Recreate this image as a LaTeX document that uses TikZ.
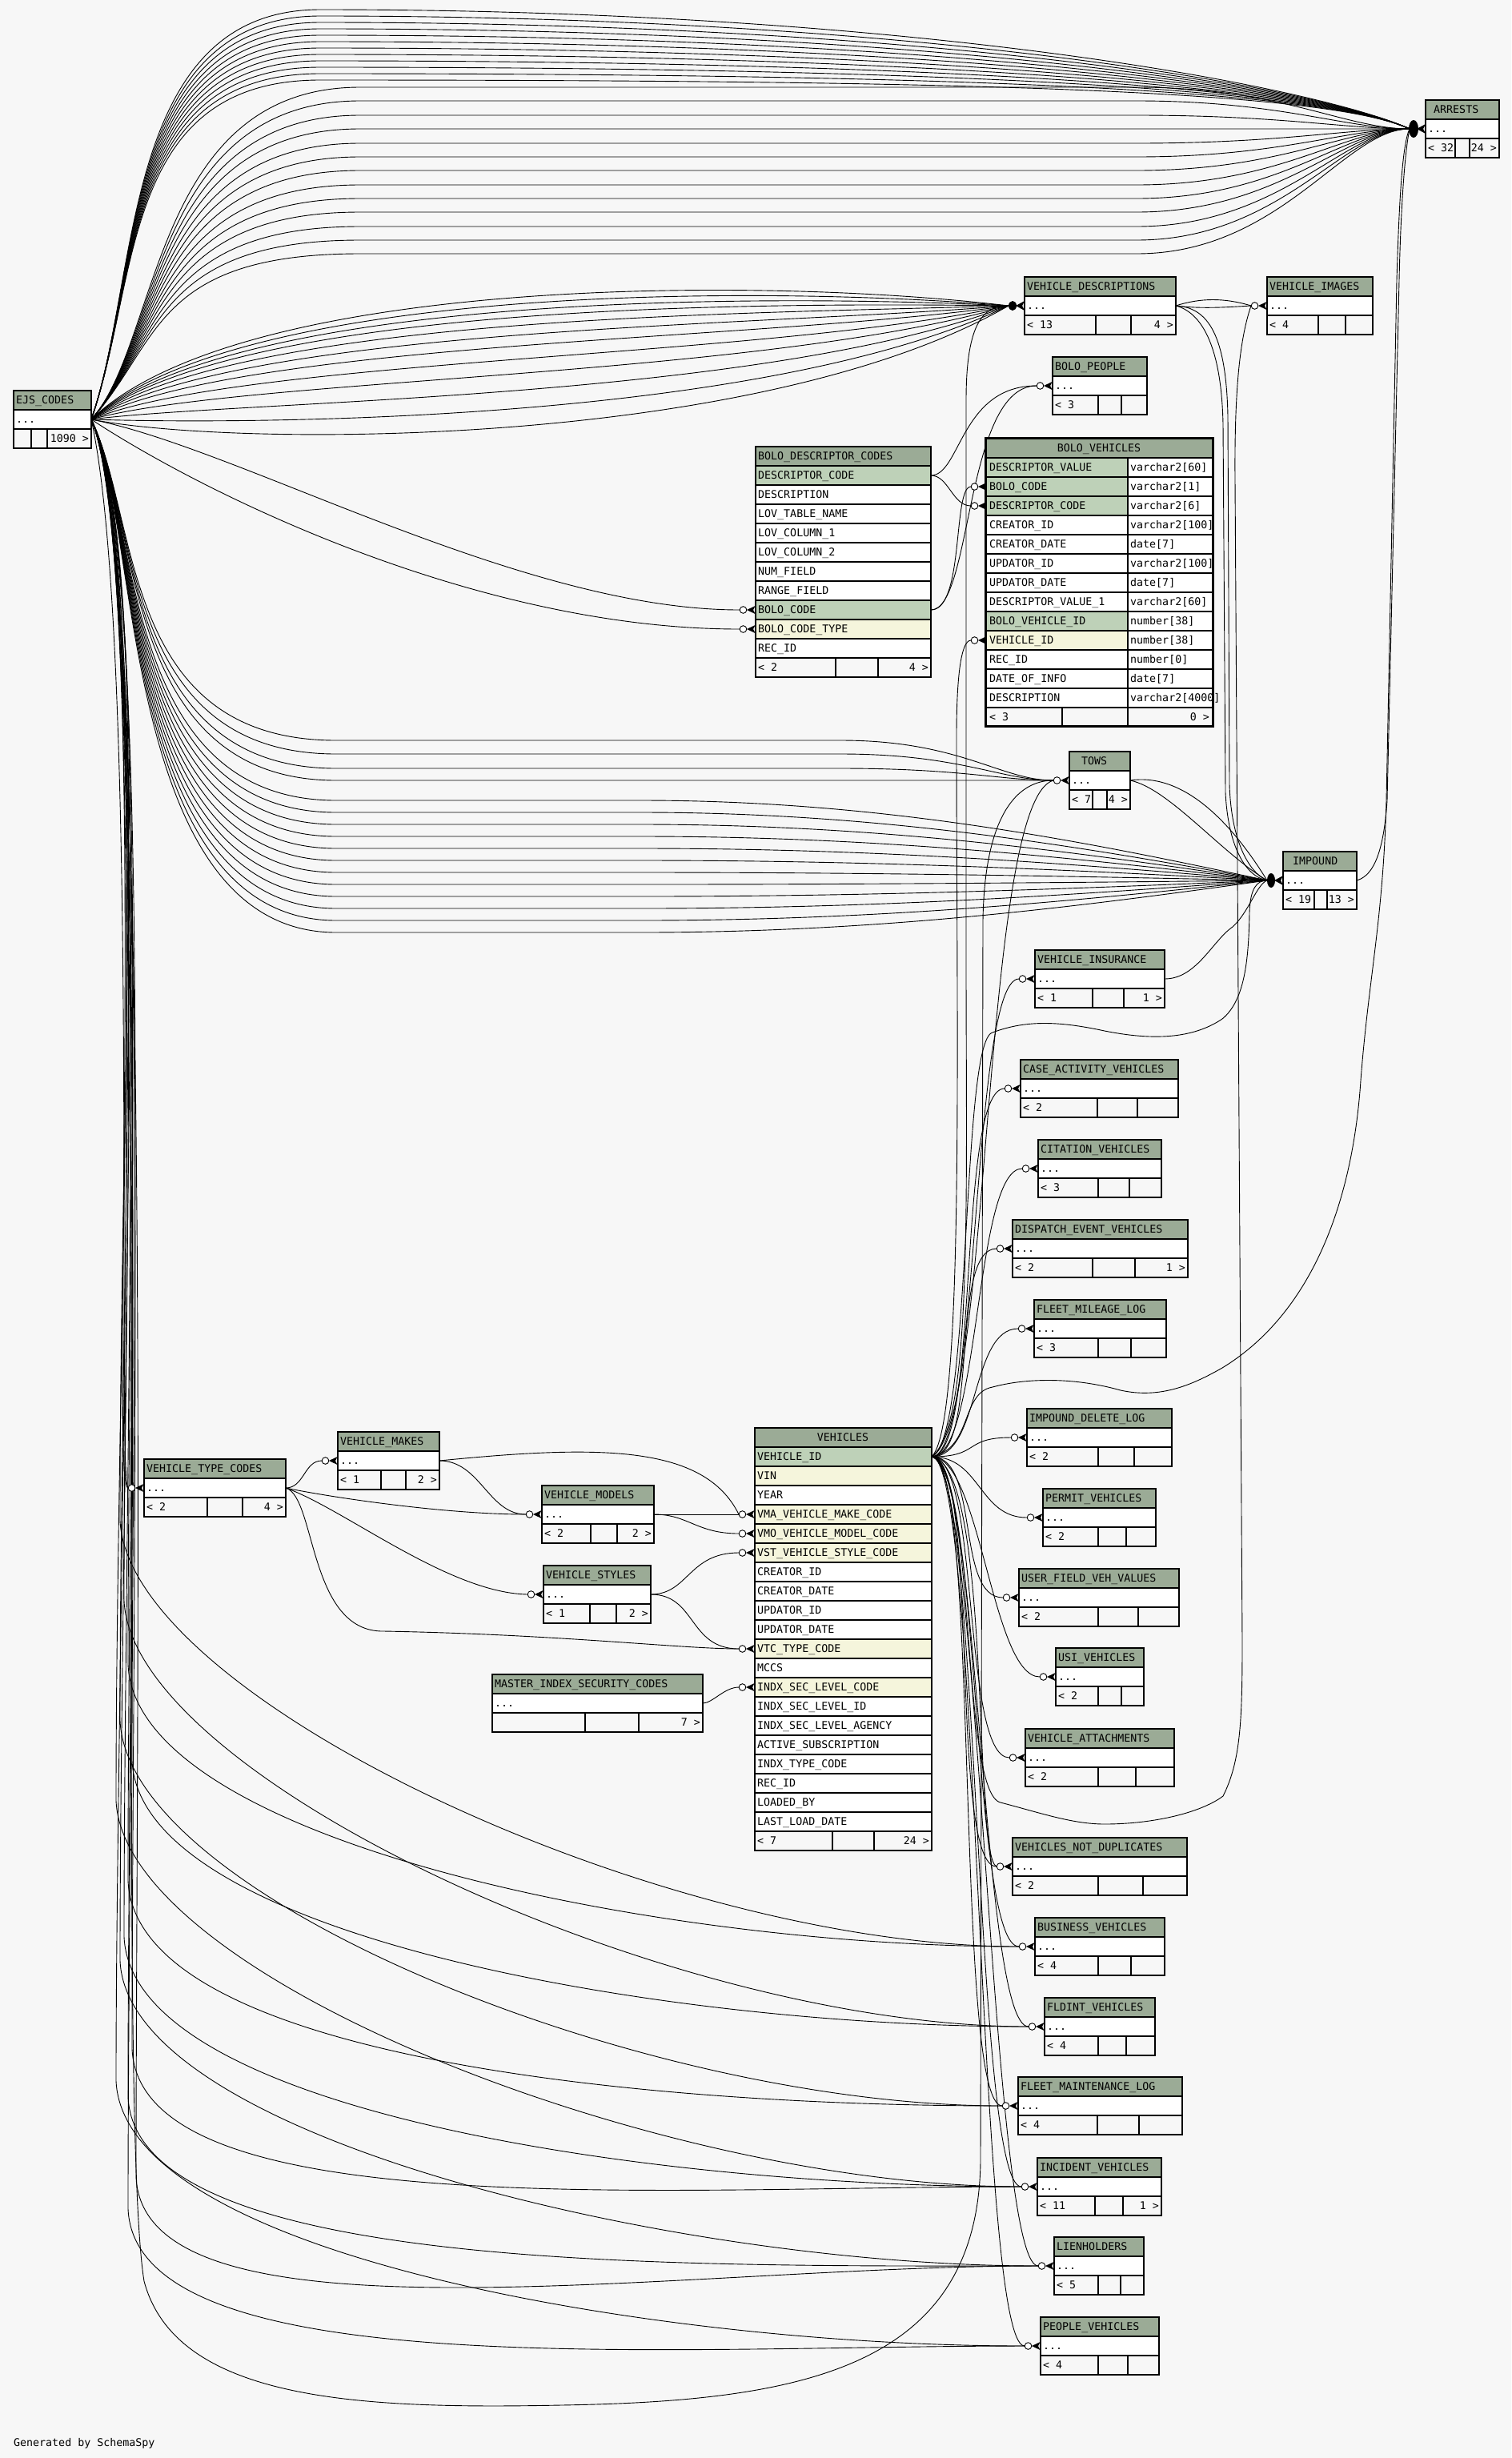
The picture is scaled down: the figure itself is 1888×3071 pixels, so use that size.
\documentclass[tikz,border=0pt]{standalone}
\usepackage{fontspec}
\usepackage{tikz}
\usetikzlibrary{calc}
\newfontfamily\mono{DejaVu Sans Mono}
\definecolor{bgpage}{HTML}{F7F7F7}
\definecolor{headgreen}{HTML}{9BAB96}
\definecolor{keygreen}{HTML}{BED1B8}
\definecolor{idxbeige}{HTML}{F5F5DC}
\pgfdeclarelayer{bg}
\pgfsetlayers{bg,main}
\tikzset{
  tbl/.style={draw=black, line width=1.2pt},
  rel/.style={draw=black, line width=0.9pt},
  celltext/.style={anchor=west, inner sep=3pt, text height=9.7pt, text depth=0pt, font=\mono\fontsize{13.3}{15}\selectfont},
}
% compact table: id, x0, y0, x1, title, split1, split2, parents, children
\newcommand{\brieftable}[9]{%
  \fill[headgreen] (#2,#3) rectangle (#4,#3+24);
  \fill[white] (#2,#3+24) rectangle (#4,#3+48);
  \fill[bgpage] (#2,#3+48) rectangle (#4,#3+72);
  \draw[tbl] (#2,#3) rectangle (#4,#3+72);
  \draw[tbl] (#2,#3+24) -- (#4,#3+24) (#2,#3+48) -- (#4,#3+48);
  \draw[tbl] (#6,#3+48) -- (#6,#3+72) (#7,#3+48) -- (#7,#3+72);
  \node[celltext] (#1-title) at (#2,#3+12) {#5};
  \node[celltext] (#1-dots) at (#2,#3+36) {...};
  \node[celltext] (#1-pl) at (#2,#3+60) {#8};
  \node[celltext,anchor=east] (#1-ch) at (#4,#3+60) {#9};
  \coordinate (#1-w) at (#2,#3+36);
  \coordinate (#1-in) at (#2-20,#3+36);
  \coordinate (#1-e) at (#4,#3+36);}
\newcommand{\crowat}[1]{%
  \fill ([xshift=-11pt]#1-w) -- ([xshift=-0.5pt,yshift=5pt]#1-w) -- ([xshift=-3pt]#1-w) -- ([xshift=-0.5pt,yshift=-5pt]#1-w) -- cycle;
  \draw[line width=0.9pt,fill=white] ([xshift=-15.5pt]#1-w) circle (4.3pt);}
\newcommand{\blobat}[3]{%
  \fill ([xshift=-11pt]#1-w) -- ([yshift=6pt]#1-w) -- ([xshift=-3pt]#1-w) -- ([yshift=-6pt]#1-w) -- cycle;
  \fill ([xshift=-15pt]#1-w) ellipse (#2 and #3);}

\begin{document}
\begin{tikzpicture}[x=1pt,y=-1pt]
  \useasboundingbox (0,0) rectangle (1888,3071);

  % small tables
  \brieftable{ejs}{17}{488}{114}{EJS\_CODES}{39}{59}{}{1090 >}
  \brieftable{arrests}{1781}{125}{1873}{\hspace*{7pt}ARRESTS}{1818}{1836}{< 32}{24 >}
  \brieftable{vdesc}{1280}{346}{1469}{VEHICLE\_DESCRIPTIONS}{1369}{1413}{< 13}{4 >}
  \brieftable{vimages}{1583}{346}{1715}{VEHICLE\_IMAGES}{1647}{1681}{< 4}{}
  \brieftable{bpeople}{1315}{446}{1433}{BOLO\_PEOPLE}{1372}{1401}{< 3}{}
  \brieftable{tows}{1336}{939}{1412}{\hspace*{12pt}TOWS}{1365}{1383}{< 7}{4 >}
  \brieftable{impound}{1603}{1064}{1695}{\hspace*{9pt}IMPOUND}{1642}{1658}{< 19}{13 >}
  \brieftable{vins}{1293}{1187}{1455}{VEHICLE\_INSURANCE}{1365}{1404}{< 1}{1 >}
  \brieftable{cav}{1275}{1324}{1472}{CASE\_ACTIVITY\_VEHICLES}{1371}{1421}{< 2}{}
  \brieftable{citv}{1297}{1424}{1451}{CITATION\_VEHICLES}{1372}{1411}{< 3}{}
  \brieftable{dev}{1265}{1524}{1484}{DISPATCH\_EVENT\_VEHICLES}{1365}{1418}{< 2}{1 >}
  \brieftable{fml}{1292}{1624}{1457}{FLEET\_MILEAGE\_LOG}{1372}{1413}{< 3}{}
  \brieftable{idl}{1283}{1760}{1464}{IMPOUND\_DELETE\_LOG}{1372}{1417}{< 2}{}
  \brieftable{permv}{1303}{1860}{1444}{PERMIT\_VEHICLES}{1372}{1407}{< 2}{}
  \brieftable{ufvv}{1273}{1960}{1473}{USER\_FIELD\_VEH\_VALUES}{1372}{1422}{< 2}{}
  \brieftable{usiv}{1319}{2059}{1429}{USI\_VEHICLES}{1372}{1401}{< 2}{}
  \brieftable{vatt}{1281}{2160}{1467}{VEHICLE\_ATTACHMENTS}{1372}{1419}{< 2}{}
  \brieftable{vnd}{1265}{2296}{1483}{VEHICLES\_NOT\_DUPLICATES}{1372}{1428}{< 2}{}
  \brieftable{busv}{1293}{2396}{1455}{BUSINESS\_VEHICLES}{1372}{1413}{< 4}{}
  \brieftable{fldv}{1305}{2496}{1443}{FLDINT\_VEHICLES}{1372}{1407}{< 4}{}
  \brieftable{fmlog}{1272}{2595}{1477}{FLEET\_MAINTENANCE\_LOG}{1371}{1423}{< 4}{}
  \brieftable{incv}{1296}{2696}{1451}{INCIDENT\_VEHICLES}{1368}{1403}{< 11}{1 >}
  \brieftable{lien}{1317}{2795}{1429}{LIENHOLDERS}{1372}{1400}{< 5}{}
  \brieftable{pplv}{1300}{2895}{1448}{PEOPLE\_VEHICLES}{1372}{1409}{< 4}{}
  \brieftable{vtc}{180}{1823}{357}{VEHICLE\_TYPE\_CODES}{259}{303}{< 2}{4 >}
  \brieftable{vmakes}{422}{1789}{549}{VEHICLE\_MAKES}{476}{507}{< 1}{2 >}
  \brieftable{vmodels}{677}{1856}{817}{VEHICLE\_MODELS}{738}{771}{< 2}{2 >}
  \brieftable{vstyles}{679}{1956}{813}{VEHICLE\_STYLES}{737}{770}{< 1}{2 >}
  \brieftable{misc}{615}{2092}{878}{MASTER\_INDEX\_SECURITY\_CODES}{731}{798}{}{7 >}

  % BOLO_DESCRIPTOR_CODES
  \fill[headgreen] (944,558) rectangle (1163,582);
  \node[celltext] (bdc-title) at (944,570) {BOLO\_DESCRIPTOR\_CODES};
  \foreach \nm/\cl [count=\k] in {DESCRIPTOR\_CODE/keygreen, DESCRIPTION/white, LOV\_TABLE\_NAME/white,
      LOV\_COLUMN\_1/white, LOV\_COLUMN\_2/white, NUM\_FIELD/white, RANGE\_FIELD/white,
      BOLO\_CODE/keygreen, BOLO\_CODE\_TYPE/idxbeige, REC\_ID/white} {
    \fill[fill=\cl] (944,558+24*\k) rectangle (1163,582+24*\k);
    \draw[tbl] (944,558+24*\k) -- (1163,558+24*\k);
    \node[celltext] (bdc-r\k) at (944,570+24*\k) {\nm};
  }
  \fill[bgpage] (944,822) rectangle (1163,846);
  \draw[tbl] (944,822) -- (1163,822) (1044,822) -- (1044,846) (1097,822) -- (1097,846);
  \draw[tbl] (944,558) rectangle (1163,846);
  \node[celltext] (bdc-pl) at (944,834) {< 2};
  \node[celltext,anchor=east] (bdc-ch) at (1163,834) {4 >};
  \coordinate (bdc-dc-e) at (1163,594);
  \coordinate (bdc-bc-e) at (1163,762);
  \coordinate (bdc-bc-w) at (944,762);
  \coordinate (bdc-bc-in) at (924,762);
  \coordinate (bdc-bct-w) at (944,786);
  \coordinate (bdc-bct-in) at (924,786);

  % BOLO_VEHICLES
  \fill[headgreen] (1233,548) rectangle (1514,572);
  \node[celltext,anchor=center] (bv-title) at (1373,560) {BOLO\_VEHICLES};
  \foreach \nm/\ty/\cl [count=\k] in {DESCRIPTOR\_VALUE/varchar2[60]/keygreen, BOLO\_CODE/varchar2[1]/keygreen,
      DESCRIPTOR\_CODE/varchar2[6]/keygreen, CREATOR\_ID/varchar2[100]/white, CREATOR\_DATE/date[7]/white,
      UPDATOR\_ID/varchar2[100]/white, UPDATOR\_DATE/date[7]/white, DESCRIPTOR\_VALUE\_1/varchar2[60]/white,
      BOLO\_VEHICLE\_ID/number[38]/keygreen, VEHICLE\_ID/number[38]/idxbeige, REC\_ID/number[0]/white,
      DATE\_OF\_INFO/date[7]/white, DESCRIPTION/varchar2[4000]/white} {
    \fill[fill=\cl] (1233,548+24*\k) rectangle (1409,572+24*\k);
    \fill[white] (1409,548+24*\k) rectangle (1514,572+24*\k);
    \draw[tbl] (1233,548+24*\k) -- (1514,548+24*\k);
    \node[celltext] (bv-n\k) at (1233,560+24*\k) {\nm};
    \node[celltext] (bv-t\k) at (1409,560+24*\k) {\ty};
  }
  \fill[bgpage] (1233,884) rectangle (1514,908);
  \draw[tbl] (1233,884) -- (1514,884) (1409,572) -- (1409,908) (1327,884) -- (1327,908);
  \node[celltext] (bv-pl) at (1233,896) {< 3};
  \node[celltext,anchor=east] (bv-ch) at (1514,896) {0 >};
  \draw[line width=3.5pt] (1231.5,547.5) rectangle (1515.5,907.5);
  \coordinate (bv-bc-w) at (1233,608);
  \coordinate (bv-bc-in) at (1213,608);
  \coordinate (bv-dc-w) at (1233,632);
  \coordinate (bv-dc-in) at (1213,632);
  \coordinate (bv-vid-w) at (1233,800);
  \coordinate (bv-vid-in) at (1213,800);

  % VEHICLES
  \fill[headgreen] (943,1784) rectangle (1164,1808);
  \node[celltext,anchor=center] (veh-title) at (1053,1796) {VEHICLES};
  \foreach \nm/\cl [count=\k] in {VEHICLE\_ID/keygreen, VIN/idxbeige, YEAR/white,
      VMA\_VEHICLE\_MAKE\_CODE/idxbeige, VMO\_VEHICLE\_MODEL\_CODE/idxbeige, VST\_VEHICLE\_STYLE\_CODE/idxbeige,
      CREATOR\_ID/white, CREATOR\_DATE/white, UPDATOR\_ID/white, UPDATOR\_DATE/white,
      VTC\_TYPE\_CODE/idxbeige, MCCS/white, INDX\_SEC\_LEVEL\_CODE/idxbeige, INDX\_SEC\_LEVEL\_ID/white,
      INDX\_SEC\_LEVEL\_AGENCY/white, ACTIVE\_SUBSCRIPTION/white, INDX\_TYPE\_CODE/white,
      REC\_ID/white, LOADED\_BY/white, LAST\_LOAD\_DATE/white} {
    \fill[fill=\cl] (943,1784+24*\k) rectangle (1164,1808+24*\k);
    \draw[tbl] (943,1784+24*\k) -- (1164,1784+24*\k);
    \node[celltext] (veh-r\k) at (943,1796+24*\k) {\nm};
  }
  \fill[bgpage] (943,2288) rectangle (1164,2312);
  \draw[tbl] (943,2288) -- (1164,2288) (1040,2288) -- (1040,2312) (1092,2288) -- (1092,2312);
  \draw[tbl] (943,1784) rectangle (1164,2312);
  \node[celltext] (veh-pl) at (943,2300) {< 7};
  \node[celltext,anchor=east] (veh-ch) at (1164,2300) {24 >};
  \coordinate (veh-id-e) at (1164,1820);
  \foreach \c/\y in {vma/1892, vmo/1916, vst/1940, vtc/2060, indx/2108} {
    \coordinate (veh-\c-w) at (943,\y);
    \coordinate (veh-\c-in) at (923,\y);
  }

  \node[celltext] (credit) at (14,3052) {Generated by SchemaSpy};

  \begin{pgfonlayer}{bg}
    \fill[bgpage] (0,0) rectangle (1888,3071);
    % EJS_CODES -> ARRESTS
    \foreach \L in {12,20,...,100}
      \draw[rel] (ejs-e) .. controls (175,350) and (150,\L) .. (400,\L) .. controls (1150,\L) and (1650,110) .. (arrests-in);
    \foreach \L in {109,126,144,161,179,196,213,231,248,265,283,300,317}
      \draw[rel] (ejs-e) .. controls (200,430) and (190,\L) .. (450,\L) -- (1420,\L) .. controls (1600,\L) and (1680,161) .. (arrests-in);
    % EJS_CODES -> VEHICLE_DESCRIPTIONS
    \foreach \L in {345,356,367,378,392,408,426,448,472,500,530,560}
      \draw[rel] (ejs-e) .. controls (300,\L) and (950,\L) .. (vdesc-in);
    % EJS_CODES -> TOWS, IMPOUND
    \foreach \L in {925,942,960,975}
      \draw[rel] (ejs-e) .. controls (175,650) and (150,\L) .. (420,\L) -- (1050,\L) .. controls (1200,\L) and (1250,975) .. (tows-in);
    \foreach \L in {1000,1015,1030,1045,1060,1075,1090,1105,1120,1135,1150,1165}
      \draw[rel] (ejs-e) .. controls (175,650) and (150,\L) .. (420,\L) -- (800,\L) .. controls (1100,\L) and (1350,550+\L/2) .. (impound-in);
    \draw[rel] (ejs-e) .. controls (200,700) and (140,2600) .. (180,2850) .. controls (220,3000) and (450,3010) .. (700,3005)
      .. controls (1000,3000) and (1222,2960) .. (1225,2700) -- (1228,1150) .. controls (1230,1020) and (1270,975) .. (tows-in);
    % EJS_CODES -> BOLO_DESCRIPTOR_CODES
    \draw[rel] (ejs-e) .. controls (300,560) and (650,762) .. (bdc-bc-in);
    \draw[rel] (ejs-e) .. controls (260,620) and (600,786) .. (bdc-bct-in);
    % EJS_CODES -> VEHICLE_TYPE_CODES
    \draw[rel] (ejs-e) .. controls (190,700) and (135,1859) .. (vtc-in);
    \draw[rel] (ejs-e) .. controls (175,800) and (145,1840) .. (vtc-in);
    % EJS_CODES -> lower tables
    \foreach \t/\yb/\bx in {busv/1900/150, busv/2080/160, fldv/2000/155, fldv/2200/165, fmlog/2150/150,
        fmlog/2350/160, incv/2250/145, incv/2420/155, incv/2560/165, lien/2450/150, lien/2620/160,
        lien/2720/170, pplv/2600/145, pplv/2760/160}
      \draw[rel] (ejs-e) .. controls (190,700) and (\bx,\yb-600) .. (\bx,\yb) .. controls (\bx+10,\yb+220) and ($(\t-in)+(-450,0)$) .. (\t-in);

    % codes -> VEHICLES
    \draw[rel] (vtc-e) .. controls (380,1859) and (380,1825) .. (vmakes-in);
    \draw[rel] (vtc-e) .. controls (420,1872) and (560,1892) .. (vmodels-in);
    \draw[rel] (vtc-e) .. controls (430,1885) and (560,1990) .. (vstyles-in);
    \draw[rel] (vtc-e) .. controls (395,1870) and (385,2040) .. (480,2038) .. controls (700,2042) and (850,2060) .. (veh-vtc-in);
    \draw[rel] (vmakes-e) .. controls (750,1805) and (880,1805) .. (veh-vma-in);
    \draw[rel] (vmakes-e) .. controls (600,1825) and (610,1892) .. (vmodels-in);
    \draw[rel] (vmodels-e) -- (veh-vma-in);
    \draw[rel] (vmodels-e) .. controls (860,1892) and (870,1916) .. (veh-vmo-in);
    \draw[rel] (vstyles-e) .. controls (860,1992) and (860,1940) .. (veh-vst-in);
    \draw[rel] (vstyles-e) .. controls (870,1992) and (860,2060) .. (veh-vtc-in);
    \draw[rel] (misc-e) .. controls (890,2128) and (905,2108) .. (veh-indx-in);

    % VEHICLES -> children
    \foreach \t in {vins,cav,citv,dev,fml,idl,permv,ufvv,usiv,vatt,vnd,busv,fldv,fmlog,incv,lien,pplv}
      \draw[rel] (veh-id-e) .. controls (1225,1820) and ($(\t-in)+(-60,0)$) .. (\t-in);
    \draw[rel] (veh-id-e) .. controls (1240,1830) and ($(vnd-in)+(-30,-12)$) .. (vnd-in);
    \draw[rel] (veh-id-e) .. controls (1240,1780) and (1225,1000) .. (tows-in);
    \draw[rel] (veh-id-e) .. controls (1205,1780) and (1195,1300) .. (1195,920) .. controls (1195,850) and (1200,800) .. (bv-vid-in);
    \draw[rel] (veh-id-e) .. controls (1215,1780) and (1207,1500) .. (1207,1200) -- (1207,500) .. controls (1207,400) and (1230,382) .. (vdesc-in);
    \draw[rel] (veh-id-e) .. controls (1215,1800) and (1200,1300) .. (1240,1290) .. controls (1280,1275) and (1320,1275) .. (1380,1288)
      .. controls (1440,1300) and (1490,1298) .. (1527,1273) .. controls (1555,1250) and (1560,1200) .. (1561,1140)
      .. controls (1562,1110) and (1570,1100) .. (impound-in);
    \draw[rel] (veh-id-e) .. controls (1215,1810) and (1200,1740) .. (1240,1733) .. controls (1280,1722) and (1340,1720) .. (1400,1737)
      .. controls (1450,1748) and (1490,1730) .. (1527,1709) .. controls (1640,1640) and (1690,1500) .. (1700,1350)
      .. controls (1710,1220) and (1728,1150) .. (1732,1000) -- (1745,350) .. controls (1748,250) and (1752,180) .. (arrests-in);
    \draw[rel] (veh-id-e) .. controls (1220,1840) and (1200,2240) .. (1250,2252) .. controls (1300,2265) and (1340,2279) .. (1380,2279)
      .. controls (1440,2279) and (1500,2265) .. (1528,2244) .. controls (1550,2200) and (1552,2150) .. (1552,2050)
      -- (1543,600) .. controls (1542,480) and (1550,420) .. (vimages-in);

    % other links
    \draw[rel] (impound-e) .. controls (1712,1095) and (1728,1075) .. (1733,1000) -- (1748,350) .. controls (1750,260) and (1755,190) .. (arrests-in);
    \draw[rel] (vdesc-e) .. controls (1500,372) and (1530,372) .. (vimages-in);
    \draw[rel] (vdesc-e) .. controls (1500,386) and (1530,384) .. (vimages-in);
    \draw[rel] (vdesc-e) .. controls (1510,384) and (1532,420) .. (1534,520) -- (1536,980) .. controls (1538,1050) and (1560,1090) .. (impound-in);
    \draw[rel] (vdesc-e) .. controls (1500,390) and (1526,430) .. (1528,530) -- (1531,990) .. controls (1534,1055) and (1555,1095) .. (impound-in);
    \draw[rel] (tows-e) .. controls (1480,965) and (1540,1030) .. (impound-in);
    \draw[rel] (tows-e) .. controls (1460,985) and (1525,1065) .. (impound-in);
    \draw[rel] (vins-e) .. controls (1495,1223) and (1515,1175) .. (1540,1158) .. controls (1560,1140) and (1570,1105) .. (impound-in);
    \draw[rel] (bdc-dc-e) .. controls (1185,594) and (1190,632) .. (bv-dc-in);
    \draw[rel] (bdc-dc-e) .. controls (1200,594) and (1200,482) .. (bpeople-in);
    \draw[rel] (bdc-bc-e) .. controls (1205,762) and (1190,608) .. (bv-bc-in);
    \draw[rel] (bdc-bc-e) .. controls (1215,762) and (1205,482) .. (bpeople-in);
  \end{pgfonlayer}

  % child ends
  \foreach \t in {vimages,bpeople,tows,vins,cav,citv,dev,fml,idl,permv,ufvv,usiv,vatt,vnd,busv,fldv,
      fmlog,incv,lien,pplv,vtc,vmakes,vmodels,vstyles,bdc-bc,bdc-bct,bv-bc,bv-dc,bv-vid,
      veh-vma,veh-vmo,veh-vst,veh-vtc,veh-indx} {
    \crowat{\t}
  }
  \blobat{arrests}{6pt}{11pt}
  \blobat{impound}{5pt}{9pt}
  \blobat{vdesc}{5pt}{6pt}
\end{tikzpicture}
\end{document}
